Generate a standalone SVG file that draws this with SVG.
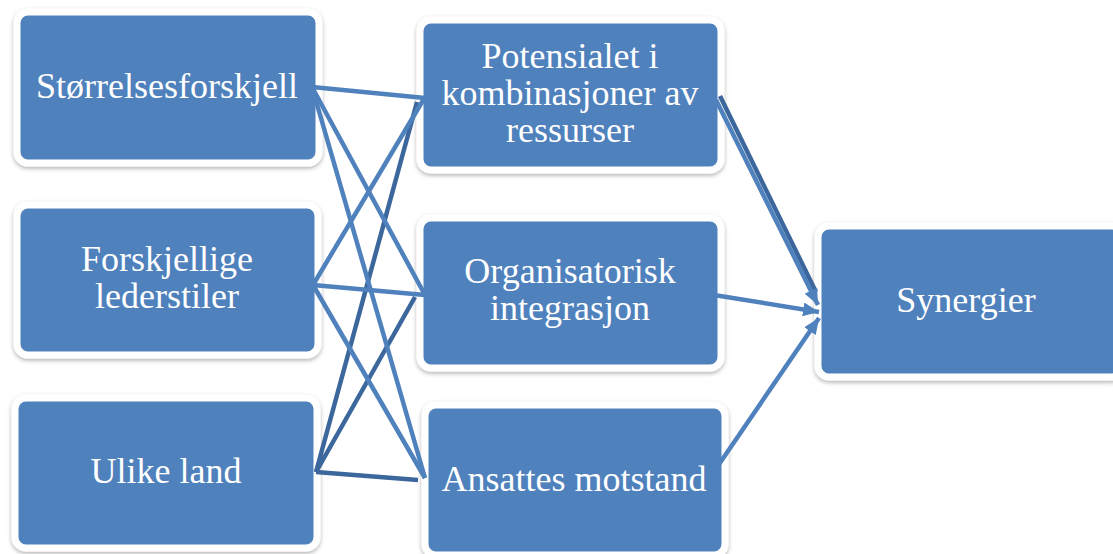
<svg xmlns="http://www.w3.org/2000/svg" width="1113" height="554" viewBox="0 0 1113 554">
<defs>
<style>
.box{fill:#4F81BD;stroke:#FFFFFF;stroke-width:7;filter:url(#sh);}
.t{font-family:"Liberation Serif","DejaVu Serif",serif;font-size:36px;fill:#FFFFFF;text-anchor:middle;}
.c{stroke:#4F81BD;stroke-width:4.5;fill:none;stroke-linecap:butt;}
.d{stroke:#3C679C;stroke-width:4.5;fill:none;}
</style>
<filter id="sh" x="-10%" y="-10%" width="120%" height="125%">
<feDropShadow dx="0" dy="2" stdDeviation="2" flood-color="#000" flood-opacity="0.3"/>
</filter>
<marker id="ah" markerUnits="userSpaceOnUse" markerWidth="18" markerHeight="14" refX="16" refY="7" orient="auto">
<path d="M0,0 L16,7 L0,14 z" fill="#4F81BD"/>
</marker>
</defs>
<rect width="1113" height="554" fill="#FFFFFF"/>
<g id="n1"><rect class="box" x="17" y="12" width="302" height="151" rx="11"/><text class="t" x="167" y="98">Størrelsesforskjell</text></g>
<g id="n2"><rect class="box" x="17" y="205" width="301" height="150" rx="11"/><text class="t" x="167" y="271">Forskjellige</text><text class="t" x="167" y="308">lederstiler</text></g>
<g id="n3"><rect class="box" x="15" y="398" width="302" height="150" rx="11"/><text class="t" x="166" y="483">Ulike land</text></g>
<g id="n4"><rect class="box" x="420" y="20" width="301" height="150" rx="11"/><text class="t" x="570" y="68">Potensialet i</text><text class="t" x="570" y="105">kombinasjoner av</text><text class="t" x="570" y="142">ressurser</text></g>
<g id="n5"><rect class="box" x="420" y="218" width="301" height="150" rx="11"/><text class="t" x="570" y="283">Organisatorisk</text><text class="t" x="570" y="320">integrasjon</text></g>
<g id="n6"><rect class="box" x="425" y="405" width="300" height="150" rx="11"/><text class="t" x="574" y="491">Ansattes motstand</text></g>
<g id="n7"><rect class="box" x="818" y="226" width="305" height="151" rx="11"/><text class="t" x="966" y="312">Synergier</text></g>
<g id="connectors">
<line class="d" x1="316" y1="472" x2="417" y2="102"/>
<line class="d" x1="316" y1="472" x2="415" y2="297"/>
<line class="d" x1="316" y1="472" x2="418" y2="480"/>
<line class="c" x1="312" y1="87" x2="425" y2="98"/>
<line class="c" x1="312" y1="87" x2="425" y2="295"/>
<line class="c" x1="312" y1="87" x2="425" y2="478"/>
<line class="c" x1="313" y1="285" x2="425" y2="97"/>
<line class="c" x1="313" y1="285" x2="425" y2="295"/>
<line class="c" x1="313" y1="285" x2="425" y2="478"/>
<line class="d" x1="720" y1="96" x2="816" y2="292"/>
<line class="c" x1="716" y1="100" x2="818" y2="305" marker-end="url(#ah)"/>
<line class="c" x1="714" y1="295" x2="819" y2="312" marker-end="url(#ah)"/>
<line class="c" x1="713" y1="473" x2="819" y2="318" marker-end="url(#ah)"/>
</g>
</svg>
